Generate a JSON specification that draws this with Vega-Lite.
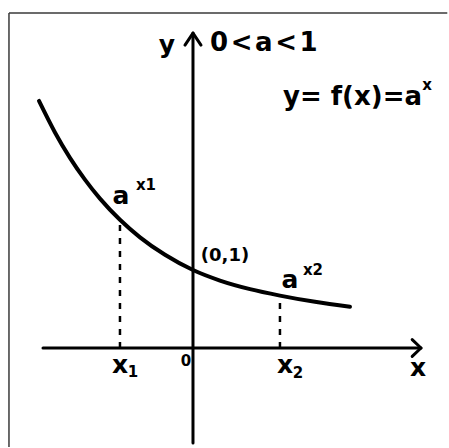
{
  "$schema": "https://vega.github.io/schema/vega-lite/v6.json",
  "autosize": {"type": "fit", "contains": "padding"},
  "width": 449,
  "height": 448,
  "padding": 0,
  "background": "white",
  "config": {"view": {"stroke": null}},
  "datasets": {
    "curve": [
      {"x": -1.974, "y": 3.168},
      {"x": -1.769, "y": 2.764},
      {"x": -1.577, "y": 2.438},
      {"x": -1.385, "y": 2.159},
      {"x": -1.192, "y": 1.915},
      {"x": -0.936, "y": 1.644},
      {"x": -0.679, "y": 1.419},
      {"x": -0.359, "y": 1.195},
      {"x": 0.0, "y": 1.0},
      {"x": 0.346, "y": 0.865},
      {"x": 0.731, "y": 0.755},
      {"x": 1.115, "y": 0.672},
      {"x": 1.564, "y": 0.592},
      {"x": 2.013, "y": 0.53}
    ],
    "frame": [
      {"x": -2.359, "y": 4.295, "x2": 3.26, "y2": 4.295},
      {"x": -2.359, "y": 4.295, "x2": -2.359, "y2": -1.27}
    ],
    "axes": [
      {"x": -1.923, "y": 0, "x2": 2.923, "y2": 0},
      {"x": 0, "y": -1.218, "x2": 0, "y2": 4.038}
    ],
    "guides": [
      {"x": -0.936, "y": 0, "x2": -0.936, "y2": 1.6},
      {"x": 1.115, "y": 0, "x2": 1.115, "y2": 0.64}
    ],
    "arrows": [
      {"x": 0, "y": 4.038, "dir": "up"},
      {"x": 2.923, "y": 0, "dir": "right"}
    ],
    "labels": [
      {"x": -0.333, "y": 3.885, "text": "y", "role": "big"},
      {"x": 0.218, "y": 3.91, "text": "0\u200a<\u200aa\u200a<\u200a1", "role": "bigleft"},
      {"x": 1.154, "y": 3.218, "text": "y= f(x)=a", "role": "bigleft"},
      {"x": -0.923, "y": 1.949, "text": "a", "role": "big"},
      {"x": 1.244, "y": 0.872, "text": "a", "role": "big"},
      {"x": -0.936, "y": -0.218, "text": "x", "role": "big"},
      {"x": 1.179, "y": -0.218, "text": "x", "role": "big"},
      {"x": 2.885, "y": -0.256, "text": "x", "role": "big"},
      {"x": 0.41, "y": 1.179, "text": "(0,1)", "role": "mid"},
      {"x": 3.0, "y": 3.372, "text": "x", "role": "small"},
      {"x": -0.603, "y": 2.09, "text": "x1", "role": "small"},
      {"x": 1.538, "y": 1.0, "text": "x2", "role": "small"},
      {"x": -0.769, "y": -0.308, "text": "1", "role": "small"},
      {"x": 1.346, "y": -0.321, "text": "2", "role": "small"},
      {"x": -0.09, "y": -0.167, "text": "0", "role": "small"}
    ]
  },
  "encoding": {
    "x": {"field": "x", "type": "quantitative", "axis": null,
          "scale": {"domain": [-2.474, 3.282], "nice": false, "zero": false}},
    "y": {"field": "y", "type": "quantitative", "axis": null,
          "scale": {"domain": [-1.282, 4.462], "nice": false, "zero": false}}
  },
  "layer": [
    {
      "data": {"name": "frame"},
      "mark": {"type": "rule", "stroke": "#3a3a3a", "strokeWidth": 1.5},
      "encoding": {"x2": {"field": "x2"}, "y2": {"field": "y2"}}
    },
    {
      "data": {"name": "axes"},
      "mark": {"type": "rule", "stroke": "black", "strokeWidth": 3, "strokeCap": "round"},
      "encoding": {"x2": {"field": "x2"}, "y2": {"field": "y2"}}
    },
    {
      "data": {"name": "guides"},
      "mark": {"type": "rule", "stroke": "black", "strokeWidth": 2.5, "strokeDash": [6, 7]},
      "encoding": {"x2": {"field": "x2"}, "y2": {"field": "y2"}}
    },
    {
      "data": {"name": "arrows"},
      "transform": [{"filter": "datum.dir === 'up'"}],
      "mark": {"type": "point", "shape": "M-1,1.5L0,0L1,1.5", "size": 256, "filled": false,
               "stroke": "black", "strokeWidth": 3, "strokeCap": "round", "strokeJoin": "round", "opacity": 1}
    },
    {
      "data": {"name": "arrows"},
      "transform": [{"filter": "datum.dir === 'right'"}],
      "mark": {"type": "point", "shape": "M-1.1,-1.05L0,0L-1.1,1.05", "size": 256, "filled": false,
               "stroke": "black", "strokeWidth": 3, "strokeCap": "round", "strokeJoin": "round", "opacity": 1}
    },
    {
      "data": {"name": "curve"},
      "mark": {"type": "line", "stroke": "black", "strokeWidth": 4, "interpolate": "monotone", "strokeCap": "round"},
      "encoding": {"order": {"field": "x", "type": "quantitative"}}
    },
    {
      "data": {"name": "labels"},
      "transform": [{"filter": "datum.role === 'big'"}],
      "mark": {"type": "text", "font": "DejaVu Sans", "fontWeight": "bold", "fontSize": 25,
               "align": "center", "baseline": "middle", "color": "black"},
      "encoding": {"text": {"field": "text"}}
    },
    {
      "data": {"name": "labels"},
      "transform": [{"filter": "datum.role === 'bigleft'"}],
      "mark": {"type": "text", "font": "DejaVu Sans", "fontWeight": "bold", "fontSize": 26,
               "align": "left", "baseline": "middle", "color": "black"},
      "encoding": {"text": {"field": "text"}}
    },
    {
      "data": {"name": "labels"},
      "transform": [{"filter": "datum.role === 'mid'"}],
      "mark": {"type": "text", "font": "DejaVu Sans", "fontWeight": "bold", "fontSize": 18,
               "align": "center", "baseline": "middle", "color": "black"},
      "encoding": {"text": {"field": "text"}}
    },
    {
      "data": {"name": "labels"},
      "transform": [{"filter": "datum.role === 'small'"}],
      "mark": {"type": "text", "font": "DejaVu Sans", "fontWeight": "bold", "fontSize": 15,
               "align": "center", "baseline": "middle", "color": "black"},
      "encoding": {"text": {"field": "text"}}
    }
  ]
}
